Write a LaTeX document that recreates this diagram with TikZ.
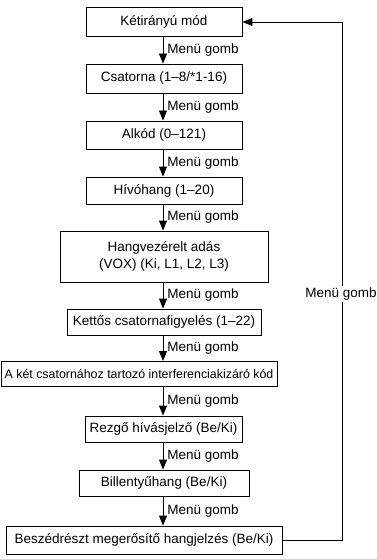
\documentclass[tikz,border=0pt]{standalone}
\usepackage{fontspec}
\setmainfont{Liberation Sans}
\usetikzlibrary{arrows.meta}
\begin{document}
\begin{tikzpicture}[x=1pt,y=-1pt,
  every node/.style={font=\fontsize{13.5}{16}\selectfont, inner sep=0pt, text=black},
  box/.style={draw=black, line width=0.9pt, align=center},
  conn/.style={draw=black, line width=0.9pt, -{Triangle[width=8pt,length=10pt]}},
  lab/.style={anchor=west}]
\useasboundingbox (0,0) rectangle (377,559);
\node[box, minimum width=156pt, minimum height=29pt] (b1) at (164,21.5) {Kétirányú mód};
\node[box, minimum width=156pt, minimum height=29pt] (b2) at (164,78.5) {Csatorna (1–8/*1-16)};
\node[box, minimum width=156pt, minimum height=28pt] (b3) at (164,135) {Alkód (0–121)};
\node[box, minimum width=156pt, minimum height=27pt] (b4) at (164,190.5) {Hívóhang (1–20)};
\node[box, minimum width=208pt, minimum height=51pt] (b5) at (164,256.5) {Hangvezérelt adás\\[1pt](VOX) (Ki, L1, L2, L3)};
\node[box, minimum width=194pt, minimum height=26pt] (b6) at (164,322) {Kettős csatornafigyelés (1–22)};
\node[box, minimum width=276pt, minimum height=25pt, font=\fontsize{12.4}{15}\selectfont] (b7) at (139,374) {A két csatornához tartozó interferenciakizáró kód};
\node[box, minimum width=157pt, minimum height=26pt] (b8) at (163.5,429) {Rezgő hívásjelző (Be/Ki)};
\node[box, minimum width=170pt, minimum height=26pt] (b9) at (164,483) {Billentyűhang (Be/Ki)};
\node[box, minimum width=276pt, minimum height=28pt] (b10) at (144,540) {Beszédrészt megerősítő hangjelzés (Be/Ki)};
\foreach \a/\b in {b1/b2,b2/b3,b3/b4,b4/b5,b5/b6,b6/b7,b7/b8,b8/b9,b9/b10}{
  \draw[conn] (163,0 |- \a.south) -- (163,0 |- \b.north)
    node[midway, lab, xshift=4pt] {Menü gomb};
}
\coordinate (fr) at (342,540);
\coordinate (ft) at (342,22);
\draw[line width=0.9pt] (b10.east |- fr) -- (fr) -- (ft);
\draw[conn] (ft) -- (b1.east |- ft);
\node[fill=white, inner sep=2pt] (fl) at (341,294) {Menü gomb};
\end{tikzpicture}
\end{document}
